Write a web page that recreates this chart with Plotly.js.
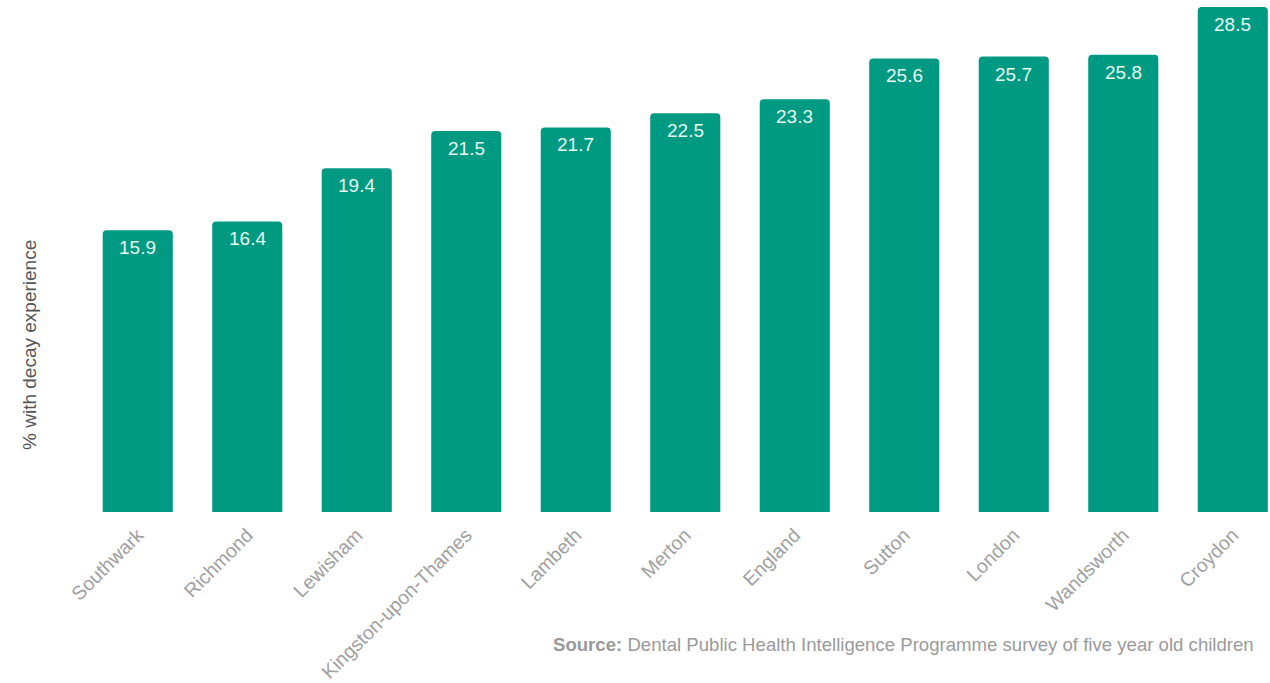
<!DOCTYPE html>
<html>
<head>
<meta charset="utf-8">
<script src="https://cdn.plot.ly/plotly-3.0.1.min.js"></script>
<style>html,body{margin:0;padding:0;background:#fff;}#chart{width:1270px;height:683px;}</style>
</head>
<body>
<div id="chart"></div>
<script>
const categories = ["Southwark","Richmond","Lewisham","Kingston-upon-Thames","Lambeth","Merton","England","Sutton","London","Wandsworth","Croydon"];
const values = [15.9,16.4,19.4,21.5,21.7,22.5,23.3,25.6,25.7,25.8,28.5];
const yTitle = "% with decay experience";
const sourceText = "<b>Source:</b> Dental Public Health Intelligence Programme survey of five year old children";

const FONT = 'Liberation Sans, Arial, sans-serif';

const trace = {
  type: 'bar',
  x: categories,
  y: values,
  marker: {color: '#009982', cornerradius: 4},
  hoverinfo: 'x+y'
};

const valueLabels = categories.map((c, i) => ({
  x: c, y: values[i], xref: 'x', yref: 'y',
  text: values[i].toFixed(1), showarrow: false,
  yanchor: 'top', yshift: -5,
  font: {family: FONT, size: 19, color: '#e3fbf3'}
}));

const layout = {
  width: 1270, height: 683,
  margin: {l: 83, r: 0, t: 7, b: 171},
  paper_bgcolor: '#fff', plot_bgcolor: '#fff',
  bargap: 0.36,
  showlegend: false,
  xaxis: {
    range: [-0.5, 10.34],
    tickangle: -45,
    tickfont: {family: FONT, size: 19.5, color: '#a0a0a0'},
    showgrid: false, zeroline: false, showline: false, ticks: '',
    ticklabelstandoff: 7
  },
  yaxis: {
    range: [0, 28.5],
    showgrid: false, zeroline: false, showline: false, showticklabels: false, ticks: ''
  },
  annotations: valueLabels.concat([
    {text: yTitle, xref: 'paper', yref: 'paper', x: -0.045, y: 0.33, xanchor: 'center', yanchor: 'middle',
     textangle: -90, showarrow: false, font: {family: FONT, size: 19, color: '#555'}},
    {text: sourceText, xref: 'paper', yref: 'paper', x: 0.9885, y: -0.263, xanchor: 'right', yanchor: 'middle',
     showarrow: false, font: {family: FONT, size: 18.6, color: '#9a9a9a'}}
  ])
};

Plotly.newPlot('chart', [trace], layout, {displayModeBar: false, staticPlot: true});
</script>
</body>
</html>
